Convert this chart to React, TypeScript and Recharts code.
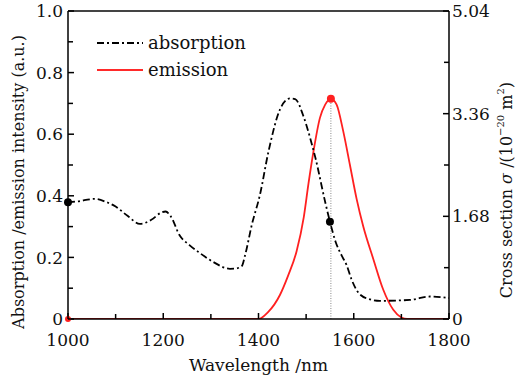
import React from "react";
import {
  LineChart,
  Line,
  XAxis,
  YAxis,
  ReferenceDot,
  ReferenceLine,
  Legend,
} from "recharts";

const absorptionX = [1000, 1020, 1057, 1080, 1100, 1125, 1151, 1175, 1195, 1205, 1215, 1235, 1255, 1277, 1305, 1340, 1352, 1365, 1372, 1386, 1403, 1421, 1445, 1466, 1477, 1494, 1508, 1520, 1540, 1550, 1562, 1575, 1585, 1595, 1606, 1627, 1655, 1718, 1760, 1800];
const absorptionY = [0.379, 0.382, 0.39, 0.38, 0.365, 0.335, 0.309, 0.322, 0.345, 0.349, 0.335, 0.27, 0.24, 0.214, 0.185, 0.163, 0.164, 0.172, 0.208, 0.306, 0.403, 0.544, 0.68, 0.716, 0.714, 0.66, 0.59, 0.52, 0.38, 0.316, 0.25, 0.205, 0.175, 0.13, 0.094, 0.067, 0.059, 0.062, 0.073, 0.068];

const emissionX = [1000, 1200, 1400, 1420, 1445, 1462, 1480, 1495, 1505, 1515, 1529, 1540, 1552, 1564, 1578, 1592, 1606, 1620, 1641, 1662, 1683, 1700, 1712, 1800];
const emissionY = [0, 0, 0, 0.022, 0.078, 0.14, 0.22, 0.33, 0.44, 0.54, 0.653, 0.696, 0.715, 0.696, 0.609, 0.5, 0.39, 0.3, 0.195, 0.095, 0.03, 0.005, 0, 0];

const xTicks = [1000, 1100, 1200, 1300, 1400, 1500, 1600, 1700, 1800];
const xLabels = [1000, 1200, 1400, 1600, 1800];
const leftTicks = [0, 0.1, 0.2, 0.3, 0.4, 0.5, 0.6, 0.7, 0.8, 0.9, 1.0];
const leftLabels = ["0", "0.2", "0.4", "0.6", "0.8", "1.0"];
const rightTicks = [0, 0.84, 1.68, 2.52, 3.36, 4.2, 5.04];
const rightLabels = ["0", "1.68", "3.36", "5.04"];

const peakX = 1552;
const emissionPeak = 0.715;
const absorptionAtPeak = 0.316;

const absorptionData = absorptionX.map((x, i) => ({ x, y: absorptionY[i] }));
const emissionData = emissionX.map((x, i) => ({ x, y: emissionY[i] }));

const FONT = "DejaVu Serif";
const FS = 17;

const XTick = (props: any) => {
  const { x, y, payload } = props;
  const major = xLabels.includes(payload.value);
  return (
    <g>
      <line x1={x} x2={x} y1={y} y2={y - (major ? 6 : 5)} stroke="#000" strokeWidth={1.5} />
      {major && (
        <text x={x} y={y + 27} textAnchor="middle" fontFamily={FONT} fontSize={FS} fill="#111">
          {payload.value}
        </text>
      )}
    </g>
  );
};

const LeftTick = (props: any) => {
  const { x, y, payload } = props;
  const v = payload.value;
  const lbl = v === 0 ? "0" : v.toFixed(1);
  const major = leftLabels.includes(lbl);
  return (
    <g>
      <line x1={x} x2={x + (major ? 6 : 5)} y1={y} y2={y} stroke="#000" strokeWidth={1.5} />
      {major && (
        <text x={x - 5} y={y} dy="0.36em" textAnchor="end" fontFamily={FONT} fontSize={FS} fill="#111">
          {lbl}
        </text>
      )}
    </g>
  );
};

const RightTick = (props: any) => {
  const { x, y, payload } = props;
  const v = payload.value;
  const lbl = v === 0 ? "0" : v.toFixed(2);
  const major = rightLabels.includes(lbl);
  return (
    <g>
      <line x1={x} x2={x - (major ? 6 : 5)} y1={y} y2={y} stroke="#000" strokeWidth={1.5} />
      {major && (
        <text x={x + 3} y={y} dy="0.36em" textAnchor="start" fontFamily={FONT} fontSize={FS} fill="#111">
          {lbl}
        </text>
      )}
    </g>
  );
};

const LeftLabel = (props: any) => {
  const vb = props.viewBox;
  const cx = vb.x + 18;
  const cy = vb.y + vb.height / 2 + 17;
  return (
    <text x={cx} y={cy} transform={`rotate(-90, ${cx}, ${cy})`} textAnchor="middle" dominantBaseline="central" fontFamily={FONT} fontSize={16} fill="#111">
      Absorption /emission intensity (a.u.)
    </text>
  );
};

const RightLabel = (props: any) => {
  const vb = props.viewBox;
  const cx = vb.x + 57;
  const cy = vb.y + vb.height / 2 + 25;
  return (
    <text x={cx} y={cy} transform={`rotate(-90, ${cx}, ${cy})`} textAnchor="middle" dominantBaseline="central" fontFamily={FONT} fontSize={16} fill="#111">
      Cross section <tspan fontStyle="italic">σ</tspan> /(10
      <tspan dy={-6} fontSize={10}>−20</tspan>
      <tspan dy={6}> m</tspan>
      <tspan dy={-6} fontSize={10}>2</tspan>
      <tspan dy={6}>)</tspan>
    </text>
  );
};

const XLabel = (props: any) => {
  const vb = props.viewBox;
  const cx = vb.x + vb.width / 2;
  return (
    <text x={cx} y={vb.y + 52} textAnchor="middle" fontFamily={FONT} fontSize={FS} fill="#111">
      Wavelength /nm
    </text>
  );
};

const LegendContent = () => (
  <svg width={170} height={50} style={{ display: "block" }}>
    <line x1={2} x2={48} y1={14} y2={14} stroke="#000" strokeWidth={2} strokeDasharray="7 3 2 3" />
    <text x={53} y={14} dy="0.36em" fontFamily={FONT} fontSize={18} fill="#111">absorption</text>
    <line x1={2} x2={48} y1={41} y2={41} stroke="#ff2a2a" strokeWidth={2} />
    <text x={53} y={41} dy="0.36em" fontFamily={FONT} fontSize={18} fill="#111">emission</text>
  </svg>
);

export default function App() {
  return (
    <div style={{ position: "absolute", left: 0, top: 0, width: 515, height: 380, background: "#fff" }}>
      <LineChart width={515} height={380} margin={{ top: 11, right: 0, left: 0, bottom: 0 }}>
        <XAxis
          dataKey="x"
          type="number"
          domain={[1000, 1800]}
          ticks={xTicks}
          interval={0}
          tickSize={0}
          tickMargin={0}
          tick={<XTick />}
          height={61}
          axisLine={{ stroke: "#000", strokeWidth: 1.5 }}
          tickLine={false}
          label={<XLabel />}
          allowDataOverflow
        />
        <YAxis
          yAxisId="left"
          dataKey="y"
          type="number"
          domain={[0, 1]}
          ticks={leftTicks}
          interval={0}
          tickSize={0}
          tickMargin={0}
          tick={<LeftTick />}
          width={68}
          axisLine={{ stroke: "#000", strokeWidth: 1.5 }}
          tickLine={false}
          label={<LeftLabel />}
          allowDataOverflow
        />
        <YAxis
          yAxisId="right"
          orientation="right"
          type="number"
          domain={[0, 5.04]}
          ticks={rightTicks}
          interval={0}
          tickSize={0}
          tickMargin={0}
          tick={<RightTick />}
          width={66}
          axisLine={{ stroke: "#000", strokeWidth: 1.5 }}
          tickLine={false}
          label={<RightLabel />}
          allowDataOverflow
        />
        <ReferenceLine yAxisId="left" y={1} stroke="#444" strokeWidth={2} />
        <ReferenceLine
          yAxisId="left"
          segment={[{ x: peakX, y: 0 }, { x: peakX, y: emissionPeak }]}
          stroke="#888"
          strokeWidth={1}
          strokeDasharray="1 1.5"
        />
        <Line
          yAxisId="left"
          data={emissionData}
          dataKey="y"
          type="monotone"
          stroke="#ff2020"
          strokeWidth={1.8}
          dot={false}
          isAnimationActive={false}
          name="emission"
        />
        <Line
          yAxisId="left"
          data={absorptionData}
          dataKey="y"
          type="monotone"
          stroke="#000"
          strokeWidth={1.8}
          strokeDasharray="7 3 2 3"
          dot={false}
          isAnimationActive={false}
          name="absorption"
        />
        <ReferenceDot yAxisId="left" x={1000} y={0} r={3} fill="#ff2020" stroke="none" />
        <ReferenceDot yAxisId="left" x={1000} y={absorptionY[0]} r={4} fill="#000" stroke="none" />
        <ReferenceDot yAxisId="left" x={peakX} y={emissionPeak} r={4} fill="#ff2020" stroke="none" />
        <ReferenceDot yAxisId="left" x={1550} y={absorptionAtPeak} r={4} fill="#000" stroke="none" />
        <Legend
          layout="horizontal"
          verticalAlign="middle"
          align="center"
          content={<LegendContent />}
          wrapperStyle={{ position: "absolute", left: 95, top: 29, width: 170, height: 50 }}
        />
      </LineChart>
    </div>
  );
}
